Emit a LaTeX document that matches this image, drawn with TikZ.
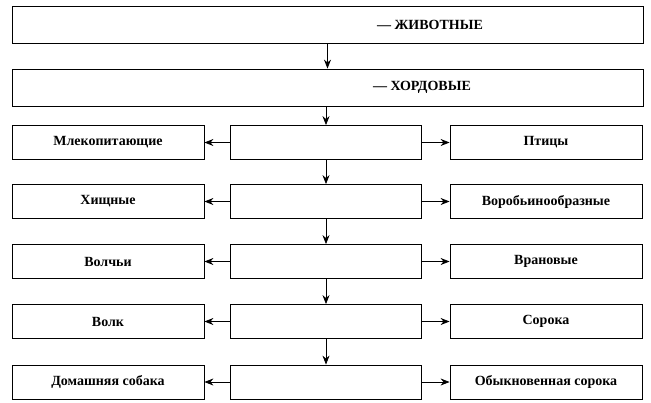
\documentclass[tikz,border=0pt]{standalone}
\usepackage{fontspec}
\setmainfont{Liberation Serif}
\usetikzlibrary{arrows.meta,positioning}
\tikzstyle{wideBox} = [shape=rectangle, draw=black, thick, minimum width=631pt,
	minimum height=37pt, inner sep=0pt]
\tikzstyle{sideBox} = [shape=rectangle, draw=black, thick, minimum width=192pt,
	minimum height=34pt, inner sep=0pt, font=\bfseries\fontsize{14}{16}\selectfont]
\tikzstyle{midBox} = [sideBox, minimum width=191pt]
\tikzstyle{labelText} = [font=\bfseries\fontsize{14}{16}\selectfont]
\tikzstyle{normalArrow} = [thick,-{Stealth[length=9pt,width=7pt]}, draw=black]

\begin{document}
\begin{tikzpicture}[x=1pt, y=-1pt]
  \useasboundingbox (0,0) rectangle (651,402);
  \node (ANIM) [wideBox] at (327.5,24.5) {};
  \node (CHORD) [wideBox] at (327.5,87.5) {};
  \node [labelText] at (430,24.5) {--- ЖИВОТНЫЕ};
  \node [labelText] at (422,87.5) {--- ХОРДОВЫЕ};

  \node (MAMM) [sideBox] at (108,142.5) {Млекопитающие};
  \node (M1) [midBox] at (326,142.5) {};
  \node (BIRD) [sideBox] at (546,142.5) {Птицы};
  \node (CARN) [sideBox] at (108,201.5) {Хищные};
  \node (M2) [midBox] at (326,201.5) {};
  \node (PASS) [sideBox] at (546,201.5) {Воробьинообразные};
  \node (CANI) [sideBox] at (108,261.5) {Волчьи};
  \node (M3) [midBox] at (326,261.5) {};
  \node (CORV) [sideBox] at (546,261.5) {Врановые};
  \node (WOLF) [sideBox] at (108,321.5) {Волк};
  \node (M4) [midBox] at (326,321.5) {};
  \node (PICA) [sideBox] at (546,321.5) {Сорока};
  \node (DOG) [sideBox] at (108,382) {Домашняя собака};
  \node (M5) [midBox] at (326,382) {};
  \node (MAGP) [sideBox] at (546,382) {Обыкновенная сорока};

  \draw [normalArrow] (ANIM) -- (CHORD);
  \draw [normalArrow] (CHORD.south -| M1.north) -- (M1);
  \draw [normalArrow] (M1) -- (M2);
  \draw [normalArrow] (M2) -- (M3);
  \draw [normalArrow] (M3) -- (M4);
  \draw [normalArrow] (M4) -- (M5);
  \foreach \m/\l/\r in {M1/MAMM/BIRD, M2/CARN/PASS, M3/CANI/CORV, M4/WOLF/PICA, M5/DOG/MAGP}
  {
    \draw [normalArrow] (\m) -- (\l);
    \draw [normalArrow] (\m) -- (\r);
  }
\end{tikzpicture}
\end{document}
